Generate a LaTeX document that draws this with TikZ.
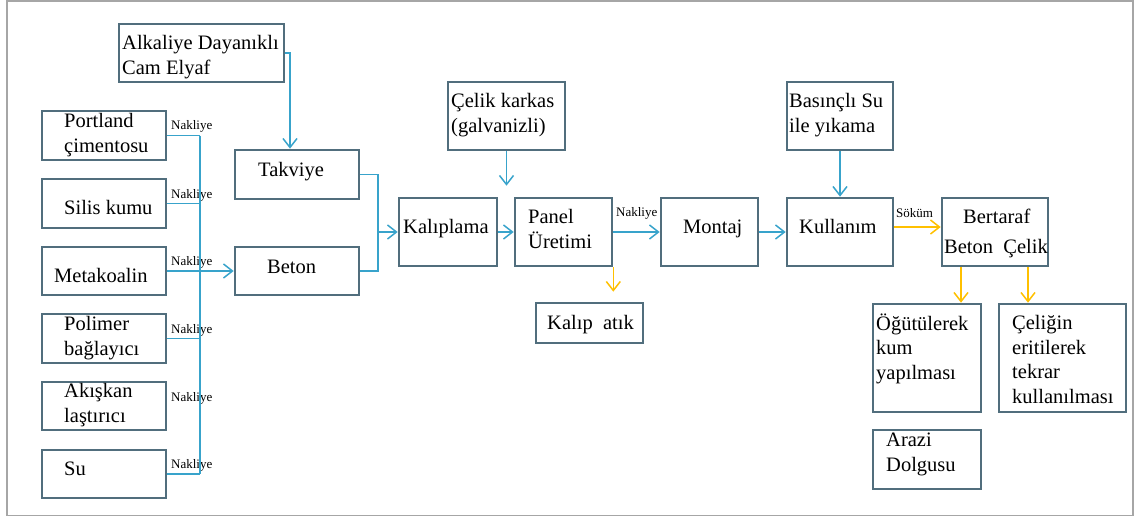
\documentclass[tikz,border=0pt]{standalone}
\usepackage{fontspec}
\setmainfont{Liberation Serif}
\usetikzlibrary{arrows.meta,calc}
\definecolor{boxline}{HTML}{516E7D}
\definecolor{flowblue}{HTML}{38A3CB}
\definecolor{flowgold}{HTML}{FFC000}
\definecolor{framegray}{HTML}{A6A6A6}
\tikzset{
  stagebox/.style={draw=boxline, line width=2.6pt, fill=white, rectangle, inner sep=0pt},
  txt/.style={anchor=base west, inner sep=0pt, align=left,
    font=\fontsize{20.5pt}{24.5pt}\selectfont},
  tag/.style={anchor=base west, inner sep=0pt, font=\fontsize{13pt}{15pt}\selectfont},
  bflow/.style={draw=flowblue, line width=1.5pt},
  gflow/.style={draw=flowgold, line width=1.5pt},
  tip/.style={-{Straight Barb[length=9pt,width=14pt,line width=1.5pt]}},
}
\newcommand{\boxat}[5]{% name, x1, y1, x2, y2
  \node[stagebox, minimum width={(#4-#2)*1pt}, minimum height={(#5-#3)*1pt}]
    (#1) at ({(#2+#4)/2},{(#3+#5)/2}) {};}
\begin{document}
\begin{tikzpicture}[x=1pt,y=-1pt]
\useasboundingbox (0,0) rectangle (1138,517);
\draw[framegray, line width=1.5pt] (7,1) rectangle (1133,515.5);

% stage boxes
\boxat{alk}{119}{24}{284}{82}
\boxat{portland}{42}{111}{166}{160}
\boxat{silis}{42}{179}{166}{228}
\boxat{meta}{42}{247}{166}{295}
\boxat{polimer}{42}{314}{166}{363}
\boxat{akiskan}{42}{382}{166}{430}
\boxat{su}{42}{450}{166}{498}
\boxat{takviye}{235}{150}{359}{199}
\boxat{beton}{235}{247}{359}{295}
\boxat{kalip}{399}{198}{497}{266}
\boxat{panel}{515}{198}{612}{266}
\boxat{karkas}{448}{82}{565}{150}
\boxat{montaj}{661}{198}{758}{266}
\boxat{atik}{536}{303}{643}{343}
\boxat{kullanim}{787}{198}{893}{266}
\boxat{basincli}{787}{82}{893}{150}
\boxat{bertaraf}{942}{198}{1048}{266}
\boxat{ogut}{873}{304}{981}{412}
\boxat{celigin}{999}{304}{1126}{412}
\boxat{arazi}{873}{430}{981}{489}

% box texts (multi-line texts sit on the baseline of their last line)
\node[txt] (t-alk) at (122,74) {Alkaliye Dayanıklı\\Cam Elyaf};
\node[txt] (t-portland) at (64,152) {Portland\\çimentosu};
\node[txt] (t-silis) at (64,214) {Silis kumu};
\node[txt] (t-meta) at (54,282) {Metakoalin};
\node[txt] (t-polimer) at (64,355) {Polimer\\bağlayıcı};
\node[txt] (t-akiskan) at (64,422) {Akışkan\\laştırıcı};
\node[txt] (t-su) at (64,475) {Su};
\node[txt] (t-takviye) at (258,176) {Takviye};
\node[txt] (t-beton) at (267,273) {Beton};
\node[txt] (t-karkas) at (451,132) {Çelik karkas\\(galvanizli)};
\node[txt] (t-kalip) at (403,233) {Kalıplama};
\node[txt] (t-panel) at (528,248) {Panel\\Üretimi};
\node[txt] (t-montaj) at (683,233) {Montaj};
\node[txt] (t-atik) at (547,329) {Kalıp\ \ atık};
\node[txt] (t-basincli) at (789,132) {Basınçlı Su\\ile yıkama};
\node[txt] (t-kullanim) at (799,233) {Kullanım};
\node[txt] (t-bertaraf) at (963,223) {Bertaraf};
\node[txt] (t-betcel) at (944,253) {Beton\ \ Çelik};
\node[txt] (t-ogut) at (876,379) {Öğütülerek\\kum\\yapılması};
\node[txt] (t-celigin) at (1012,403) {Çeliğin\\eritilerek\\tekrar\\kullanılması};
\node[txt] (t-arazi) at (886,471) {Arazi\\Dolgusu};

% transport labels
\node[tag] (n1) at (171,129) {Nakliye};
\node[tag] (n2) at (171,198) {Nakliye};
\node[tag] (n3) at (171,265) {Nakliye};
\node[tag] (n4) at (171,333) {Nakliye};
\node[tag] (n5) at (171,401) {Nakliye};
\node[tag] (n6) at (171,468) {Nakliye};
\node[tag] (n7) at (616,216) {Nakliye};
\node[tag] (sokum) at (896,217) {Söküm};

% raw material collector
\coordinate (bus) at (200,0);
\coordinate (join) at (378,232);
\draw[bflow] (portland.east) -- (portland.east -| bus);
\draw[bflow] (silis.east) -- (silis.east -| bus);
\draw[bflow] (polimer.east) -- (polimer.east -| bus);
\draw[bflow] (su.east) -- (su.east -| bus);
\draw[bflow] (portland.east -| bus) -- (su.east -| bus);
\draw[bflow,tip] (meta.east) -- (beton.west);

% main line
\draw[bflow,tip] (alk.east) -| ([xshift=-7pt]takviye.north);
\draw[bflow] (takviye.east) -| (join);
\draw[bflow] (beton.east) -| (join);
\draw[bflow,tip] (join) -- (kalip.west);
\draw[bflow,tip] (kalip.east) -- (panel.west);
\draw[bflow,tip] (karkas.south) -- ([yshift=11pt]panel.north -| karkas.south);
\draw[bflow,tip] (panel.east) -- (montaj.west);
\draw[bflow,tip] (montaj.east) -- (kullanim.west);
\draw[bflow,tip] (basincli.south) -- (kullanim.north);

% waste and end of life
\draw[gflow,tip] (panel.south east) -- ([yshift=10pt]atik.north -| panel.south east);
\draw[gflow,tip] ([yshift=5pt]kullanim.east) -- ([yshift=5pt]bertaraf.west);
\draw[gflow,tip] ([xshift=-34pt]bertaraf.south) -- ([xshift=-34pt]bertaraf.south |- ogut.north);
\draw[gflow,tip] ([xshift=33pt]bertaraf.south) -- ([xshift=33pt]bertaraf.south |- celigin.north);
\end{tikzpicture}
\end{document}
